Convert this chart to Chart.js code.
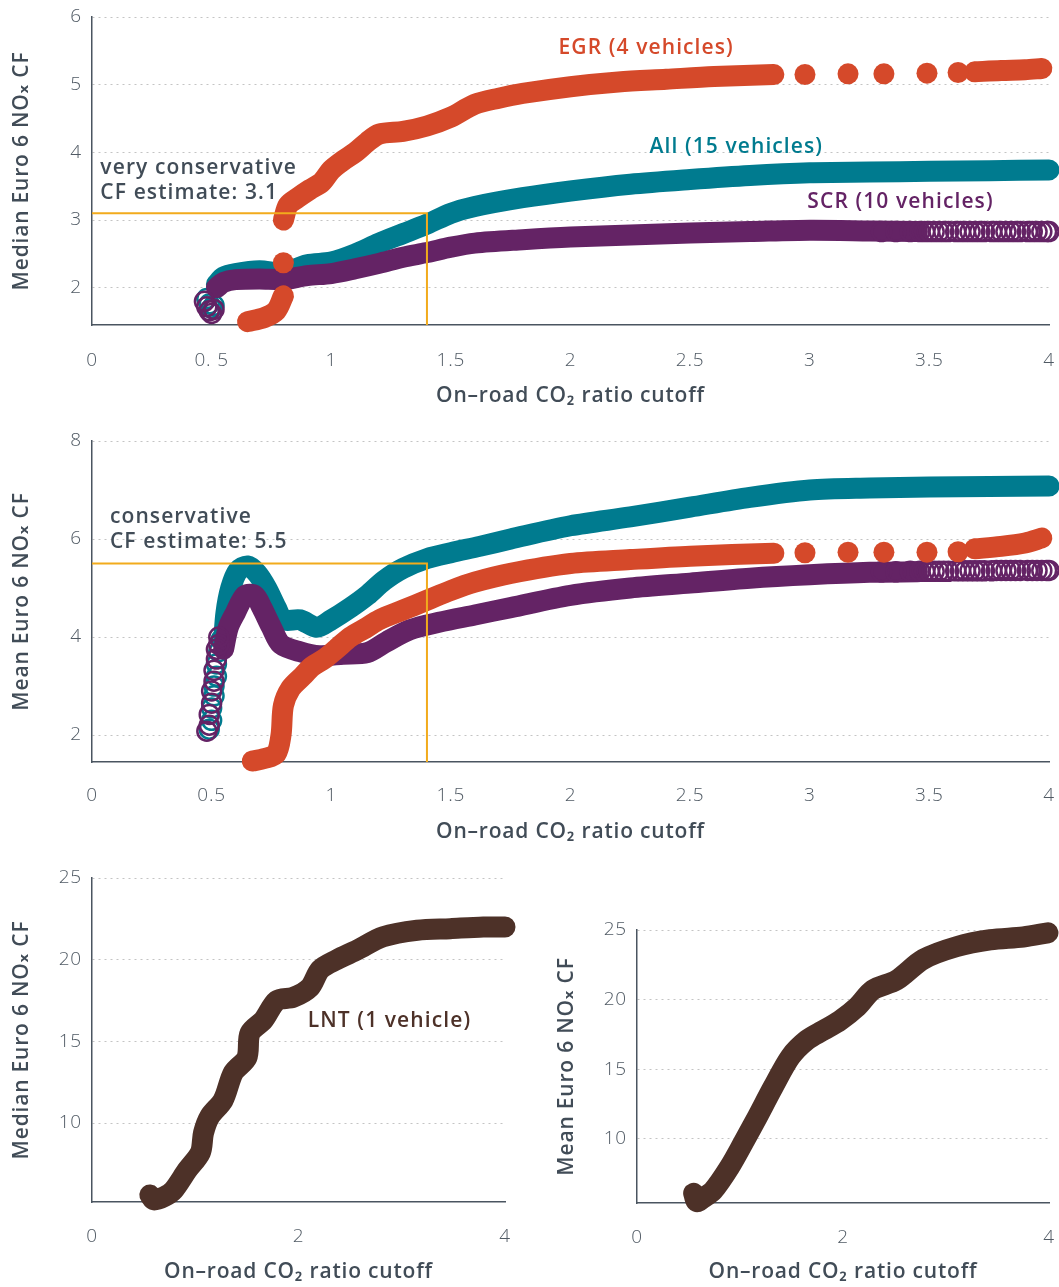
<!DOCTYPE html>
<html>
<head>
<meta charset="utf-8">
<script src="https://cdn.jsdelivr.net/npm/chart.js@4/dist/chart.umd.min.js"></script>
<style>
  body { margin: 0; background: #fff; width: 1059px; height: 1287px; position: relative; overflow: hidden; }
  .box { position: absolute; }
</style>
</head>
<body>
<div class="box" style="left:0;top:0"><canvas id="medianChart" width="1059" height="420"></canvas></div>
<div class="box" style="left:0;top:420px"><canvas id="meanChart" width="1059" height="430"></canvas></div>
<div class="box" style="left:0;top:850px"><canvas id="lntMedianChart" width="530" height="437"></canvas></div>
<div class="box" style="left:530px;top:850px"><canvas id="lntMeanChart" width="529" height="437"></canvas></div>
<script>
// ---- data: median panel ----
var egrMedX = [0.65, 0.72, 0.77, 0.80, null, 0.80, 0.82, 0.86, 0.91, 0.96, 1.00, 1.05, 1.10, 1.15, 1.20, 1.30, 1.40, 1.50, 1.60, 1.70, 1.80, 2.00, 2.20, 2.40, 2.60, 2.85, null, 3.69, 3.80, 3.90, 3.97]
var egrMedY = [1.50, 1.56, 1.66, 1.88, null, 3.00, 3.22, 3.33, 3.45, 3.56, 3.74, 3.88, 4.00, 4.15, 4.27, 4.31, 4.39, 4.52, 4.71, 4.80, 4.87, 4.97, 5.04, 5.08, 5.12, 5.15, null, 5.19, 5.21, 5.22, 5.24]
var egrMedDotX = [0.80, 2.98, 3.16, 3.31, 3.49, 3.62]
var egrMedDotY = [2.37, 5.15, 5.16, 5.16, 5.17, 5.18]
var allMedX = [0.52, 0.55, 0.60, 0.70, 0.80, 0.90, 1.00, 1.10, 1.20, 1.30, 1.40, 1.50, 1.60, 1.80, 2.00, 2.25, 2.50, 2.75, 3.00, 3.25, 3.50, 3.75, 4.00]
var allMedY = [2.05, 2.16, 2.21, 2.25, 2.22, 2.34, 2.38, 2.50, 2.66, 2.80, 2.94, 3.10, 3.20, 3.33, 3.43, 3.53, 3.60, 3.66, 3.70, 3.71, 3.72, 3.73, 3.74]
var allMedOpenX = [0.48, 0.49, 0.50, 0.51]
var allMedOpenY = [1.84, 1.76, 1.70, 1.74]
var scrMedX = [0.52, 0.55, 0.60, 0.70, 0.80, 0.90, 1.00, 1.10, 1.20, 1.30, 1.40, 1.50, 1.60, 1.80, 2.00, 2.25, 2.50, 2.75, 3.00, 3.25, 3.45]
var scrMedY = [2.00, 2.08, 2.12, 2.13, 2.12, 2.18, 2.21, 2.28, 2.36, 2.45, 2.52, 2.60, 2.66, 2.71, 2.75, 2.78, 2.81, 2.83, 2.85, 2.84, 2.83]
var scrMedOpenX = [0.47, 0.48, 0.49, 0.50, 0.51, 3.30, 3.36, 3.42, 3.46, 3.48, 3.50, 3.52, 3.54, 3.56, 3.58, 3.61, 3.63, 3.65, 3.67, 3.69, 3.71, 3.73, 3.76, 3.78, 3.80, 3.82, 3.84, 3.86, 3.88, 3.91, 3.93, 3.95, 3.97, 3.99, 4.00]
var scrMedOpenY = [1.80, 1.72, 1.66, 1.62, 1.68, 2.83, 2.83, 2.83, 2.83, 2.83, 2.83, 2.83, 2.83, 2.83, 2.83, 2.83, 2.83, 2.83, 2.83, 2.83, 2.83, 2.83, 2.83, 2.83, 2.83, 2.83, 2.83, 2.83, 2.83, 2.83, 2.83, 2.83, 2.83, 2.83, 2.83]

// ---- data: mean panel ----
var egrMeanX = [0.67, 0.72, 0.77, 0.79, 0.80, 0.83, 0.88, 0.92, 0.97, 1.02, 1.08, 1.15, 1.20, 1.30, 1.40, 1.50, 1.60, 1.75, 2.00, 2.25, 2.50, 2.85, null, 3.69, 3.80, 3.90, 3.97]
var egrMeanY = [1.47, 1.52, 1.62, 2.00, 2.60, 2.95, 3.20, 3.40, 3.55, 3.75, 4.00, 4.20, 4.35, 4.55, 4.75, 4.95, 5.12, 5.30, 5.50, 5.58, 5.65, 5.71, null, 5.80, 5.85, 5.92, 6.02]
var egrMeanDotX = [2.98, 3.16, 3.31, 3.49, 3.62]
var egrMeanDotY = [5.72, 5.73, 5.73, 5.73, 5.74]
var allMeanX = [0.55, 0.56, 0.58, 0.61, 0.65, 0.69, 0.73, 0.77, 0.80, 0.87, 0.94, 1.00, 1.08, 1.15, 1.22, 1.30, 1.40, 1.50, 1.62, 1.75, 2.00, 2.25, 2.50, 2.75, 3.00, 3.25, 3.50, 3.75, 4.00]
var allMeanY = [3.90, 4.50, 5.00, 5.35, 5.45, 5.30, 5.00, 4.60, 4.35, 4.35, 4.20, 4.35, 4.60, 4.85, 5.15, 5.40, 5.60, 5.72, 5.85, 6.00, 6.27, 6.45, 6.65, 6.85, 7.00, 7.04, 7.06, 7.07, 7.08]
var allMeanOpenX = [0.49, 0.50, 0.50, 0.51, 0.51, 0.52, 0.52, 0.53, 0.54]
var allMeanOpenY = [2.12, 2.30, 2.55, 2.80, 3.00, 3.20, 3.45, 3.70, 3.95]
var scrMeanX = [0.55, 0.57, 0.60, 0.64, 0.68, 0.71, 0.75, 0.79, 0.87, 0.95, 1.05, 1.15, 1.23, 1.33, 1.45, 1.60, 1.75, 2.00, 2.25, 2.50, 2.75, 3.00, 3.25, 3.45]
var scrMeanY = [3.75, 4.20, 4.50, 4.85, 4.85, 4.60, 4.20, 3.85, 3.70, 3.62, 3.65, 3.68, 3.90, 4.15, 4.30, 4.45, 4.60, 4.85, 5.00, 5.10, 5.20, 5.27, 5.32, 5.33]
var scrMeanOpenX = [0.48, 0.49, 0.49, 0.50, 0.50, 0.51, 0.51, 0.52, 0.52, 0.53, 0.53, 3.30, 3.36, 3.42, 3.46, 3.48, 3.50, 3.52, 3.54, 3.56, 3.58, 3.61, 3.63, 3.65, 3.67, 3.69, 3.71, 3.73, 3.76, 3.78, 3.80, 3.82, 3.84, 3.86, 3.88, 3.91, 3.93, 3.95, 3.97, 3.99, 4.00]
var scrMeanOpenY = [2.08, 2.20, 2.42, 2.65, 2.90, 3.10, 3.32, 3.55, 3.75, 3.85, 4.00, 5.33, 5.33, 5.34, 5.34, 5.34, 5.34, 5.34, 5.34, 5.34, 5.34, 5.35, 5.35, 5.35, 5.35, 5.35, 5.35, 5.35, 5.35, 5.36, 5.36, 5.36, 5.36, 5.36, 5.36, 5.36, 5.36, 5.36, 5.36, 5.36, 5.36]

// ---- data: LNT panels ----
var lntMedX = [0.56, 0.60, 0.70, 0.79, 0.92, 1.05, 1.08, 1.14, 1.27, 1.37, 1.50, 1.53, 1.66, 1.79, 1.95, 2.11, 2.21, 2.37, 2.57, 2.82, 3.15, 3.47, 3.79, 4.00]
var lntMedY = [5.60, 5.30, 5.50, 5.90, 7.10, 8.20, 9.40, 10.4, 11.4, 13.1, 14.0, 15.5, 16.3, 17.5, 17.7, 18.3, 19.4, 20.0, 20.6, 21.4, 21.8, 21.9, 22.0, 22.0]
var lntMeanX = [0.55, 0.58, 0.65, 0.74, 0.90, 1.03, 1.17, 1.32, 1.49, 1.65, 1.81, 1.97, 2.14, 2.29, 2.52, 2.78, 3.10, 3.43, 3.75, 3.99]
var lntMeanY = [6.10, 5.50, 5.80, 6.30, 8.00, 9.70, 11.6, 13.7, 15.9, 17.1, 17.8, 18.5, 19.5, 20.7, 21.4, 22.9, 23.8, 24.3, 24.5, 24.8]

// reference lines (estimates)
var medEstX = [0, 1.4, 1.4]
var medEstY = [3.1, 3.1, 1.45]
var meanEstX = [0, 1.4, 1.4]
var meanEstY = [5.5, 5.5, 1.45]

// ticks
var xTicksWide = [0, 0.5, 1, 1.5, 2, 2.5, 3, 3.5, 4]
var xLabelsTop = ['0', '0. 5', '1', '1.5', '2', '2.5', '3', '3.5', '4']
var xLabelsMid = ['0', '0.5', '1', '1.5', '2', '2.5', '3', '3.5', '4']
var xTicksNarrow = [0, 2, 4]
var xLabelsNarrow = ['0', '2', '4']
var yTicksMedian = [2, 3, 4, 5, 6]
var yTicksMean = [2, 4, 6, 8]
var yTicksLnt = [10, 15, 20, 25]

var ORANGE = '#d5492a', TEAL = '#007b8f', PURPLE = '#642365', BROWN = '#4d3128', AMBER = '#f2ab1c'
var TEXT = '#414c57', TICK = '#505a64', AXIS = '#4a5560'
var FONT = "'Open Sans', 'DejaVu Sans', sans-serif"

function pts(xs, ys) {
    return xs.map(function (x, i) { return { x: x, y: ys[i] } })
}

function band(xs, ys, color) {
    return { data: pts(xs, ys), showLine: true, borderColor: color, borderWidth: 21, pointRadius: 0,
             borderCapStyle: 'round', borderJoinStyle: 'round', tension: 0.3, spanGaps: false, clip: false }
}
function dots(xs, ys, color) {
    return { data: pts(xs, ys), showLine: false, backgroundColor: color, borderColor: color, borderWidth: 0, pointRadius: 10.5, clip: false }
}
function rings(xs, ys, color) {
    return { data: pts(xs, ys), showLine: false, backgroundColor: 'rgba(0,0,0,0)', borderColor: color, borderWidth: 2.5, pointRadius: 9.5, clip: false }
}
function guide(xs, ys) {
    return { data: pts(xs, ys), showLine: true, borderColor: AMBER, borderWidth: 2, pointRadius: 0, tension: 0, clip: false }
}

// wider letter spacing for all chart text, plus text notes placed in data coordinates
var notesPlugin = {
    id: 'notes',
    beforeDraw: function (chart) {
        chart.ctx.letterSpacing = '0.8px'
    },
    afterDatasetsDraw: function (chart, args, opts) {
        var ctx = chart.ctx
        ;(opts.items || []).forEach(function (n) {
            ctx.save()
            ctx.font = '600 21px ' + FONT
            ctx.letterSpacing = '1.1px'
            ctx.fillStyle = n.color
            ctx.textAlign = 'left'
            ctx.textBaseline = 'middle'
            ctx.fillText(n.text, chart.scales.x.getPixelForValue(n.x), chart.scales.y.getPixelForValue(n.y))
            ctx.restore()
        })
    }
}

var CLEAR = 'rgba(0,0,0,0)'

function makeChart(id, datasets, o) {
    return new Chart(document.getElementById(id), {
        type: 'scatter',
        data: { datasets: datasets },
        plugins: [notesPlugin],
        options: {
            responsive: false,
            animation: false,
            events: [],
            layout: { autoPadding: false, padding: { top: o.padTop, right: o.padRight, left: 0, bottom: 0 } },
            plugins: { legend: { display: false }, tooltip: { enabled: false }, notes: { items: o.notes } },
            scales: {
                x: {
                    type: 'linear', min: 0, max: 4,
                    afterBuildTicks: function (s) { s.ticks = o.xTicks.map(function (v) { return { value: v } }) },
                    afterFit: function (s) { s.height = o.xHeight },
                    ticks: { autoSkip: false, maxRotation: 0, padding: 0, color: TICK,
                             font: { family: FONT, size: 19, weight: '300' },
                             callback: function (v, i) { return o.xLabels[i] } },
                    // invisible tick marks push the labels down without widening the side padding
                    grid: { drawOnChartArea: false, drawTicks: true, tickLength: o.xTickPad, tickColor: CLEAR },
                    border: { display: true, color: AXIS, width: 1.5 },
                    title: { display: true, text: 'On–road CO₂ ratio cutoff', color: TEXT,
                             font: { family: FONT, size: 21, weight: '600' }, padding: { top: 0, bottom: o.xTitlePad } }
                },
                y: {
                    type: 'linear', min: o.yMin, max: o.yMax,
                    afterBuildTicks: function (s) { s.ticks = o.yTicks.map(function (v) { return { value: v } }) },
                    afterFit: function (s) { s.width = o.yWidth },
                    ticks: { padding: 0, color: TICK, font: { family: FONT, size: 19, weight: '300' } },
                    grid: { color: '#c4c4c4', lineWidth: 1, drawTicks: true, tickLength: 10, tickColor: CLEAR },
                    border: { display: true, color: AXIS, width: 1.5, dash: [2, 4] },
                    title: { display: true, text: o.yTitle, color: TEXT,
                             font: { family: FONT, size: 21, weight: '600' }, padding: { top: o.yTitlePad, bottom: 0 } }
                }
            }
        }
    })
}

makeChart('medianChart', [
    guide(medEstX, medEstY),
    dots(egrMedDotX, egrMedDotY, ORANGE),
    band(egrMedX, egrMedY, ORANGE),
    rings(scrMedOpenX, scrMedOpenY, PURPLE),
    band(scrMedX, scrMedY, PURPLE),
    rings(allMedOpenX, allMedOpenY, TEAL),
    band(allMedX, allMedY, TEAL)
], {
    padTop: 17, padRight: 10, xHeight: 95, yWidth: 92, xTickPad: 24, xTitlePad: 11, yTitlePad: 9,
    xTicks: xTicksWide, xLabels: xLabelsTop, yTicks: yTicksMedian, yMin: 1.45, yMax: 6,
    yTitle: 'Median Euro 6 NOₓ CF',
    notes: [
        { text: 'very conservative', x: 0.035, y: 3.77, color: TEXT },
        { text: 'CF estimate: 3.1', x: 0.035, y: 3.40, color: TEXT },
        { text: 'EGR (4 vehicles)', x: 1.95, y: 5.54, color: ORANGE },
        { text: 'All (15 vehicles)', x: 2.33, y: 4.08, color: TEAL },
        { text: 'SCR (10 vehicles)', x: 2.99, y: 3.27, color: PURPLE }
    ]
})

makeChart('meanChart', [
    guide(meanEstX, meanEstY),
    dots(egrMeanDotX, egrMeanDotY, ORANGE),
    band(egrMeanX, egrMeanY, ORANGE),
    rings(scrMeanOpenX, scrMeanOpenY, PURPLE),
    band(scrMeanX, scrMeanY, PURPLE),
    rings(allMeanOpenX, allMeanOpenY, TEAL),
    band(allMeanX, allMeanY, TEAL)
], {
    padTop: 21, padRight: 10, xHeight: 88, yWidth: 92, xTickPad: 22, xTitlePad: 5, yTitlePad: 9,
    xTicks: xTicksWide, xLabels: xLabelsMid, yTicks: yTicksMean, yMin: 1.45, yMax: 8,
    yTitle: 'Mean Euro 6 NOₓ CF',
    notes: [
        { text: 'conservative', x: 0.075, y: 6.45, color: TEXT },
        { text: 'CF estimate: 5.5', x: 0.075, y: 5.94, color: TEXT }
    ]
})

makeChart('lntMedianChart', [
    band(lntMedX, lntMedY, BROWN)
], {
    padTop: 28, padRight: 25, xHeight: 85, yWidth: 92, xTickPad: 23, xTitlePad: 2, yTitlePad: 9,
    xTicks: xTicksNarrow, xLabels: xLabelsNarrow, yTicks: yTicksLnt, yMin: 5.17, yMax: 25,
    yTitle: 'Median Euro 6 NOₓ CF',
    notes: [
        { text: 'LNT (1 vehicle)', x: 2.09, y: 16.25, color: BROWN }
    ]
})

makeChart('lntMeanChart', [
    band(lntMeanX, lntMeanY, BROWN)
], {
    padTop: 80, padRight: 10, xHeight: 84, yWidth: 107, xTickPad: 23, xTitlePad: 2, yTitlePad: 24,
    xTicks: xTicksNarrow, xLabels: xLabelsNarrow, yTicks: yTicksLnt, yMin: 5.4, yMax: 25,
    yTitle: 'Mean Euro 6 NOₓ CF',
    notes: []
})
</script>
</body>
</html>
